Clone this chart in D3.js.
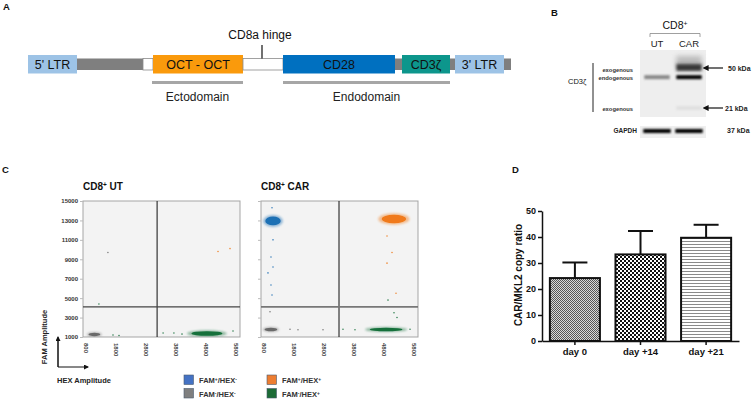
<!DOCTYPE html>
<html><head><meta charset="utf-8">
<script src="https://cdn.jsdelivr.net/npm/d3@7"></script>
<style>
body{margin:0;background:#fff}
svg{display:block}
text{font-family:"Liberation Sans",Arial,sans-serif}
</style>
</head><body>
<svg id="c" width="752" height="400"></svg>
<script>
// ---------- Panel A: construct (arbitrary length units) ----------
const segLabels = ["5' LTR", "", "", "OCT - OCT", "", "CD28", "", "CD3ζ", "", "3' LTR", ""];
const segTypes  = ["LTR", "linker", "spacer", "scFv", "hinge", "costim", "linker", "signal", "linker", "LTR", "linker"];
const segStart  = [0, 490, 1150, 1250, 2150, 2550, 3670, 3740, 4220, 4270, 4760];
const segEnd    = [490, 1150, 1250, 2150, 2550, 3670, 3740, 4220, 4270, 4760, 4830];
const hingeLabel = "CD8a hinge";
const hingePos = 2340;
const domainNames = ["Ectodomain", "Endodomain"];
const domainStart = [1240, 2550];
const domainEnd   = [2150, 4220];

// ---------- Panel B: western blot ----------
const lanes = ["UT", "CAR"];
const bandLabels = ["exogenous", "endogenous", "exogenous"];
const bandKDa = [50, 41, 21];                // apparent migration
const markerKDa = [50, 21];
const markerLabels = ["50 kDa", "21 kDa"];
const bandIntensityUT  = [0.0, 0.5, 0.0];
const bandIntensityCAR = [0.8, 1.0, 0.12];
const gapdhIntensity = [1.0, 1.0];
const gapdhLabel = "37 kDa";

// ---------- Panel C: ddPCR droplet clusters ----------
const hexTicks = [800, 1800, 2800, 3800, 4800, 5800];
const famTicks = [1000, 3000, 5000, 7000, 9000, 11000, 13000, 15000];
// UT sample clusters
const utClusterGroup = ["FAM-/HEX-", "FAM-/HEX+"];
const utClusterHex = [1080, 4830];
const utClusterFam = [1270, 1360];
const utClusterHexSd = [250, 660];
const utClusterFamSd = [250, 330];
const utStrayHex = [1530, 1230, 5200, 5600, 3370, 3730, 4000, 5700, 1700, 1900];
const utStrayFam = [9700, 4400, 9800, 10100, 1410, 1410, 1300, 1620, 1200, 1150];
const utStrayGroup = ["FAM-/HEX-", "FAM-/HEX+", "FAM+/HEX+", "FAM+/HEX+", "FAM-/HEX+", "FAM-/HEX+", "FAM-/HEX+", "FAM-/HEX+", "FAM-/HEX+", "FAM-/HEX+"];
const utThreshold = [3170, 4100];
// CAR sample clusters
const carClusterGroup = ["FAM+/HEX-", "FAM+/HEX+", "FAM-/HEX-", "FAM-/HEX+"];
const carClusterHex = [1100, 5130, 1030, 4870];
const carClusterFam = [12950, 13150, 1770, 1770];
const carClusterHexSd = [330, 520, 270, 700];
const carClusterFamSd = [620, 600, 260, 260];
const carStrayHex = [1067, 1100, 1033, 1100, 933, 1033, 1067, 1000, 4900, 5067, 4900, 5200, 4933, 5133, 5233, 1667, 1933, 2767, 3433, 3833, 5667];
const carStrayFam = [14300, 11000, 9240, 8200, 7600, 6360, 5330, 3600, 11400, 9700, 8600, 5500, 4800, 3500, 3000, 1800, 1750, 1750, 1800, 1750, 1800];
const carStrayGroup = ["FAM+/HEX-","FAM+/HEX-","FAM+/HEX-","FAM+/HEX-","FAM+/HEX-","FAM+/HEX-","FAM+/HEX-","FAM-/HEX-",
  "FAM+/HEX+","FAM+/HEX+","FAM+/HEX+","FAM+/HEX+","FAM-/HEX+","FAM-/HEX+","FAM-/HEX+","FAM-/HEX-","FAM-/HEX-","FAM-/HEX-","FAM-/HEX+","FAM-/HEX+","FAM-/HEX+"];
const carThreshold = [3300, 4100];

// ---------- Panel D: copy ratio ----------
const days = ["day 0", "day +14", "day +21"];
const copyRatio = [24.2, 33.3, 39.7];
const copyRatioErr = [6.0, 9.0, 5.0];
const ratioTicks = [0, 10, 20, 30, 40, 50];

// =====================================================================
const svg = d3.select("#c");
svg.append("rect").attr("width", 752).attr("height", 400).attr("fill", "#fff");
const defs = svg.append("defs");
[["b06",0.6],["b1",1],["b15",1.5],["b25",2.5],["b08",0.8]].forEach(([id,s]) => {
  defs.append("filter").attr("id", id).attr("x","-50%").attr("y","-50%").attr("width","200%").attr("height","200%")
    .append("feGaussianBlur").attr("stdDeviation", s);
});

function panelLabel(t, x, y) {
  svg.append("text").attr("x", x).attr("y", y).attr("font-size", 9.5).attr("font-weight", "bold").attr("fill", "#111").text(t);
}
function supText(g, parts, attrs) {
  const t = g.append("text");
  Object.entries(attrs).forEach(([k, v]) => t.attr(k, v));
  parts.forEach(p => {
    const ts = t.append("tspan").text(p.t);
    if (p.s) ts.attr("baseline-shift", "super").attr("font-size", "65%");
  });
  return t;
}
function famHexParts(name) {
  const m = name.match(/FAM([+-])\/HEX([+-])/);
  return [{t: "FAM"}, {t: m[1], s: "up"}, {t: "/HEX"}, {t: m[2], s: "up"}];
}

// ---------------- Panel A ----------------
panelLabel("A", 3, 10);
const xA = d3.scaleLinear([0, 4830], [28, 511]);
const segColor = {LTR: "#9dc3e6", linker: "#7f7f7f", spacer: "#ffffff", hinge: "#ffffff", scFv: "#fa9a0c", costim: "#0070c0", signal: "#0d968c"};
const gA = svg.append("g");
const segs = segStart.map((s, i) => ({s, e: segEnd[i], type: segTypes[i], label: segLabels[i]}));
const isBox = t => ["LTR", "scFv", "costim", "signal"].includes(t);
gA.selectAll("rect.seg").data(segs).join("rect").attr("class", "seg")
  .attr("x", d => xA(d.s)).attr("width", d => xA(d.e) - xA(d.s))
  .attr("y", d => isBox(d.type) ? 55 : 58.5)
  .attr("height", d => isBox(d.type) ? 18.5 : 11.5)
  .attr("fill", d => segColor[d.type])
  .attr("stroke", d => (d.type === "spacer" || d.type === "hinge") ? "#8a8a8a" : "none")
  .attr("stroke-width", 0.8);
gA.selectAll("text.seg").data(segs.filter(d => d.label)).join("text").attr("class", "seg")
  .attr("x", d => (xA(d.s) + xA(d.e)) / 2).attr("y", 69).attr("text-anchor", "middle")
  .attr("font-size", 12.5).attr("fill", "#111").text(d => d.label);
gA.append("line").attr("x1", xA(hingePos)).attr("x2", xA(hingePos)).attr("y1", 45).attr("y2", 58.5)
  .attr("stroke", "#111").attr("stroke-width", 1.2);
gA.append("text").attr("x", xA(hingePos) - 2).attr("y", 39).attr("text-anchor", "middle")
  .attr("font-size", 12).attr("fill", "#111").text(hingeLabel);
const doms = domainNames.map((n, i) => ({n, s: domainStart[i], e: domainEnd[i]}));
gA.selectAll("rect.dom").data(doms).join("rect").attr("class", "dom")
  .attr("x", d => xA(d.s)).attr("width", d => xA(d.e) - xA(d.s)).attr("y", 81).attr("height", 3).attr("fill", "#a6a6a6");
gA.selectAll("text.dom").data(doms).join("text").attr("class", "dom")
  .attr("x", d => (xA(d.s) + xA(d.e)) / 2).attr("y", 101).attr("text-anchor", "middle")
  .attr("font-size", 12).attr("fill", "#222").text(d => d.n);

// ---------------- Panel B ----------------
panelLabel("B", 551, 16);
const gB = svg.append("g");
const xB = d3.scaleBand(lanes, [641, 705]).paddingInner(0.08).paddingOuter(0.04);
const yB = d3.scaleLog([50, 21], [68, 108]);
supText(gB, [{t: "CD8"}, {t: "+", s: "up"}], {x: 675, y: 29, "text-anchor": "middle", "font-size": 10.5, fill: "#111"});
gB.append("path").attr("d", "M650,37V33.5H700V37").attr("fill", "none").attr("stroke", "#888").attr("stroke-width", 0.8);
gB.selectAll("text.lane").data(lanes).join("text").attr("class", "lane")
  .attr("x", d => xB(d) + xB.bandwidth() / 2).attr("y", 47).attr("text-anchor", "middle")
  .attr("font-size", 9.5).attr("fill", "#222").text(d => d);
gB.append("rect").attr("x", 640).attr("y", 50).attr("width", 66).attr("height", 67).attr("fill", "#eeeeee");
gB.append("rect").attr("x", 640).attr("y", 126).attr("width", 66).attr("height", 12).attr("fill", "#efefef");
const bands = [];
bandKDa.forEach((k, i) => {
  bands.push({lane: "UT", k, v: bandIntensityUT[i], i});
  bands.push({lane: "CAR", k, v: bandIntensityCAR[i], i});
});
// diffuse smear above the exogenous CAR band
gB.selectAll("rect.smear").data(bands.filter(d => d.v > 0 && d.i === 0)).join("rect").attr("class", "smear")
  .attr("x", d => xB(d.lane) + 2).attr("width", xB.bandwidth() - 4)
  .attr("y", d => yB(d.k) - 12).attr("height", 12)
  .attr("fill", "#9a9a9a").attr("opacity", 0.6).attr("filter", "url(#b25)");
gB.selectAll("rect.band").data(bands.filter(d => d.v > 0)).join("rect").attr("class", "band")
  .attr("x", d => xB(d.lane) + 2).attr("width", xB.bandwidth() - 4)
  .attr("y", d => yB(d.k) - (d.i === 0 ? 4 : 2))
  .attr("height", d => d.i === 0 ? 7 : 4)
  .attr("fill", d => d3.interpolateGreys(0.1 + 0.9 * d.v))
  .attr("filter", d => d.i === 0 ? "url(#b15)" : "url(#b1)");
gB.selectAll("rect.gapdh").data(lanes).join("rect").attr("class", "gapdh")
  .attr("x", d => xB(d) + 1).attr("width", xB.bandwidth() - 2).attr("y", 129).attr("height", 4)
  .attr("fill", (d, i) => d3.interpolateGreys(gapdhIntensity[i])).attr("filter", "url(#b08)");
gB.selectAll("text.bl").data(bandLabels).join("text").attr("class", "bl")
  .attr("x", 633).attr("y", (d, i) => yB(bandKDa[i]) + (i === 0 ? 3.5 : 2.5)).attr("text-anchor", "end")
  .attr("font-size", 5.8).attr("font-weight", "bold").attr("fill", "#333").text(d => d);
gB.append("line").attr("x1", 593).attr("x2", 593).attr("y1", 63).attr("y2", 112).attr("stroke", "#222").attr("stroke-width", 1);
gB.append("text").attr("x", 568).attr("y", 84).attr("font-size", 7.5).attr("fill", "#111").attr("font-family", "DejaVu Sans, sans-serif").text("CD3ζ");
gB.append("text").attr("x", 637).attr("y", 133).attr("text-anchor", "end").attr("font-size", 6.5)
  .attr("font-weight", "bold").attr("fill", "#222").text("GAPDH");
defs.append("marker").attr("id", "ahB").attr("viewBox", "0 0 10 10").attr("refX", 1).attr("refY", 5)
  .attr("markerWidth", 5).attr("markerHeight", 5).attr("orient", "auto-start-reverse")
  .append("path").attr("d", "M0,0L10,5L0,10z").attr("fill", "#111");
markerKDa.forEach((k, i) => {
  gB.append("line").attr("x1", 708).attr("x2", 723).attr("y1", yB(k)).attr("y2", yB(k))
    .attr("stroke", "#111").attr("stroke-width", 1.2).attr("marker-start", "url(#ahB)");
  gB.append("text").attr("x", i === 0 ? 728 : 725).attr("y", yB(k) + 2.5).attr("font-size", 7)
    .attr("font-weight", "bold").attr("fill", "#222").text(markerLabels[i]);
});
gB.append("text").attr("x", 727).attr("y", 133).attr("font-size", 7).attr("font-weight", "bold").attr("fill", "#222").text(gapdhLabel);

// ---------------- Panel C ----------------
panelLabel("C", 2, 173);
const dotColor = {"FAM+/HEX-": "#1f6fb4", "FAM-/HEX-": "#6b6b6b", "FAM+/HEX+": "#f07a1a", "FAM-/HEX+": "#14703a"};
const legColor = {"FAM+/HEX-": "#4472c4", "FAM-/HEX-": "#7f7f7f", "FAM+/HEX+": "#ed7d31", "FAM-/HEX+": "#1c6b36"};
const yC = d3.scaleLinear([1000, 15000], [337, 201]);

function dropletPlot(x0, title, cl, stray, thr, showYLabels) {
  const xC = d3.scaleLinear([700, 5933], [x0, x0 + 157]);
  const g = svg.append("g");
  supText(g, [{t: "CD8"}, {t: "+", s: "up"}, {t: " " + title}], {x: x0, y: 190, "font-size": 10, "font-weight": "bold", fill: "#111"});
  g.append("rect").attr("x", x0).attr("y", 201).attr("width", 157).attr("height", 136)
    .attr("fill", "#f3f3f3").attr("stroke", "#a5a5a5").attr("stroke-width", 1);
  const ya = g.append("g").attr("transform", `translate(${x0},0)`)
    .call(d3.axisLeft(yC).tickValues(famTicks).tickSize(3).tickFormat(showYLabels ? d3.format("d") : ""));
  ya.select(".domain").remove();
  ya.selectAll("line").attr("stroke", "#bbb");
  ya.selectAll("text").attr("font-size", 6).attr("font-weight", "bold").attr("fill", "#333").attr("dx", 1);
  g.selectAll("text.xt").data(hexTicks).join("text").attr("class", "xt")
    .attr("transform", d => `translate(${xC(d) - 2},343) rotate(90)`)
    .attr("font-size", 6).attr("font-weight", "bold").attr("fill", "#444").text(d => d);
  const cdata = cl.hex.map((h, i) => ({h, f: cl.fam[i], sh: cl.hsd[i], sf: cl.fsd[i], g: cl.group[i]}));
  const clip = "clip" + x0;
  defs.append("clipPath").attr("id", clip).append("rect").attr("x", x0).attr("y", 201).attr("width", 157).attr("height", 136);
  const gc = g.append("g").attr("clip-path", `url(#${clip})`);
  gc.append("line").attr("x1", xC(thr[0])).attr("x2", xC(thr[0])).attr("y1", 201).attr("y2", 337)
    .attr("stroke", "#222").attr("stroke-width", 1.1);
  gc.append("line").attr("x1", x0).attr("x2", x0 + 157).attr("y1", yC(thr[1])).attr("y2", yC(thr[1]))
    .attr("stroke", x0 > 200 ? "#777" : "#444").attr("stroke-width", x0 > 200 ? 1.8 : 1.2);
  gc.selectAll("ellipse.halo").data(cdata).join("ellipse").attr("class", "halo")
    .attr("cx", d => xC(d.h)).attr("cy", d => yC(d.f))
    .attr("rx", d => xC(d.h + d.sh) - xC(d.h)).attr("ry", d => yC(d.f) - yC(d.f + d.sf))
    .attr("fill", d => dotColor[d.g]).attr("opacity", 0.45).attr("filter", "url(#b1)");
  gc.selectAll("ellipse.core").data(cdata).join("ellipse").attr("class", "core")
    .attr("cx", d => xC(d.h)).attr("cy", d => yC(d.f))
    .attr("rx", d => (xC(d.h + d.sh) - xC(d.h)) * 0.78).attr("ry", d => (yC(d.f) - yC(d.f + d.sf)) * 0.72)
    .attr("fill", d => dotColor[d.g]).attr("filter", "url(#b06)");
  const sdata = stray.hex.map((h, i) => ({h, f: stray.fam[i], g: stray.group[i]}));
  gc.selectAll("circle.stray").data(sdata).join("circle").attr("class", "stray")
    .attr("cx", d => xC(d.h)).attr("cy", d => yC(d.f)).attr("r", 0.8)
    .attr("fill", d => dotColor[d.g]).attr("opacity", 0.85);
}
dropletPlot(83, "UT",
  {hex: utClusterHex, fam: utClusterFam, hsd: utClusterHexSd, fsd: utClusterFamSd, group: utClusterGroup},
  {hex: utStrayHex, fam: utStrayFam, group: utStrayGroup}, utThreshold, true);
dropletPlot(261, "CAR",
  {hex: carClusterHex, fam: carClusterFam, hsd: carClusterHexSd, fsd: carClusterFamSd, group: carClusterGroup},
  {hex: carStrayHex, fam: carStrayFam, group: carStrayGroup}, carThreshold, false);

defs.append("marker").attr("id", "ahC").attr("viewBox", "0 0 10 10").attr("refX", 8).attr("refY", 5)
  .attr("markerWidth", 5).attr("markerHeight", 5).attr("orient", "auto")
  .append("path").attr("d", "M0,0L10,5L0,10z").attr("fill", "#111");
svg.append("path").attr("d", "M58,339V367H88").attr("fill", "none").attr("stroke", "#111").attr("stroke-width", 1)
  .attr("marker-end", "url(#ahC)");
svg.append("line").attr("x1", 58).attr("y1", 367).attr("x2", 58).attr("y2", 337).attr("stroke", "#111")
  .attr("stroke-width", 1).attr("marker-end", "url(#ahC)");
svg.append("text").attr("transform", "translate(47,337) rotate(-90)").attr("text-anchor", "middle")
  .attr("font-size", 7.5).attr("font-weight", "bold").attr("fill", "#222").text("FAM Amplitude");
svg.append("text").attr("x", 57).attr("y", 383).attr("font-size", 7.5).attr("font-weight", "bold").attr("fill", "#222").text("HEX Amplitude");

const legOrder = ["FAM+/HEX-", "FAM-/HEX-", "FAM+/HEX+", "FAM-/HEX+"];
const gl = svg.append("g");
legOrder.forEach((n, i) => {
  const col = Math.floor(i / 2), row = i % 2;
  const x = 184 + col * 83, y = 375 + row * 13.5;
  gl.append("rect").attr("x", x).attr("y", y).attr("width", 9.5).attr("height", 9.5)
    .attr("fill", legColor[n]).attr("stroke", "#4a5a70").attr("stroke-width", 0.6);
  supText(gl, famHexParts(n), {x: x + 15, y: y + 8, "font-size": 7.5, "font-weight": "bold", fill: "#333"});
});

// ---------------- Panel D ----------------
panelLabel("D", 512, 173);
const gD = svg.append("g");
const yD = d3.scaleLinear([0, 50], [341, 211]);
const xD = d3.scaleBand(days, [542, 739]).paddingInner(0.237).paddingOuter(0.12);
const p1 = defs.append("pattern").attr("id", "pat1").attr("width", 2).attr("height", 2).attr("patternUnits", "userSpaceOnUse");
p1.append("rect").attr("width", 2).attr("height", 2).attr("fill", "#d8d8d8");
p1.append("rect").attr("width", 1).attr("height", 1).attr("fill", "#555");
p1.append("rect").attr("x", 1).attr("y", 1).attr("width", 1).attr("height", 1).attr("fill", "#555");
const p2 = defs.append("pattern").attr("id", "pat2").attr("width", 4).attr("height", 4).attr("patternUnits", "userSpaceOnUse");
p2.append("rect").attr("width", 4).attr("height", 4).attr("fill", "#fff");
p2.append("rect").attr("width", 2).attr("height", 2).attr("fill", "#111");
p2.append("rect").attr("x", 2).attr("y", 2).attr("width", 2).attr("height", 2).attr("fill", "#111");
const p3 = defs.append("pattern").attr("id", "pat3").attr("width", 4).attr("height", 3).attr("patternUnits", "userSpaceOnUse");
p3.append("rect").attr("width", 4).attr("height", 3).attr("fill", "#fff");
p3.append("rect").attr("y", 1).attr("width", 4).attr("height", 1).attr("fill", "#8a8a8a");
const pats = ["url(#pat1)", "url(#pat2)", "url(#pat3)"];
const bd = days.map((d, i) => ({d, v: copyRatio[i], e: copyRatioErr[i], p: pats[i]}));
gD.selectAll("line.eb").data(bd).join("line").attr("class", "eb")
  .attr("x1", d => xD(d.d) + xD.bandwidth() / 2).attr("x2", d => xD(d.d) + xD.bandwidth() / 2)
  .attr("y1", d => yD(d.v)).attr("y2", d => yD(d.v + d.e)).attr("stroke", "#111").attr("stroke-width", 2);
gD.selectAll("line.cap").data(bd).join("line").attr("class", "cap")
  .attr("x1", d => xD(d.d) + xD.bandwidth() / 2 - 12.5).attr("x2", d => xD(d.d) + xD.bandwidth() / 2 + 12.5)
  .attr("y1", d => yD(d.v + d.e)).attr("y2", d => yD(d.v + d.e)).attr("stroke", "#111").attr("stroke-width", 2);
gD.selectAll("rect.bar").data(bd).join("rect").attr("class", "bar")
  .attr("x", d => xD(d.d)).attr("width", xD.bandwidth())
  .attr("y", d => yD(d.v)).attr("height", d => yD(0) - yD(d.v))
  .attr("fill", d => d.p).attr("stroke", "#111").attr("stroke-width", 2);
const ay = gD.append("g").attr("transform", "translate(542,0)")
  .call(d3.axisLeft(yD).tickValues(ratioTicks).tickSize(4).tickSizeOuter(0).tickPadding(2));
ay.select(".domain").attr("stroke-width", 1.5).attr("stroke", "#111");
ay.selectAll("line").attr("stroke-width", 1.5).attr("stroke", "#111");
ay.selectAll("text").attr("font-size", 9).attr("font-weight", "bold").attr("fill", "#111")
  .attr("font-family", '"Liberation Sans", Arial, sans-serif');
const ax = gD.append("g").attr("transform", "translate(0,341)")
  .call(d3.axisBottom(xD).tickSize(4).tickSizeOuter(0).tickPadding(3));
ax.select(".domain").attr("stroke-width", 1.5).attr("stroke", "#111");
ax.selectAll("line").attr("stroke-width", 1.5).attr("stroke", "#111");
ax.selectAll("text").attr("font-size", 9.5).attr("font-weight", "bold").attr("fill", "#111")
  .attr("font-family", '"Liberation Sans", Arial, sans-serif');
gD.append("text").attr("transform", "translate(522,275) rotate(-90)").attr("text-anchor", "middle")
  .attr("font-size", 10).attr("font-weight", "bold").attr("fill", "#111").text("CAR/MKL2 copy ratio");
</script>
</body></html>
